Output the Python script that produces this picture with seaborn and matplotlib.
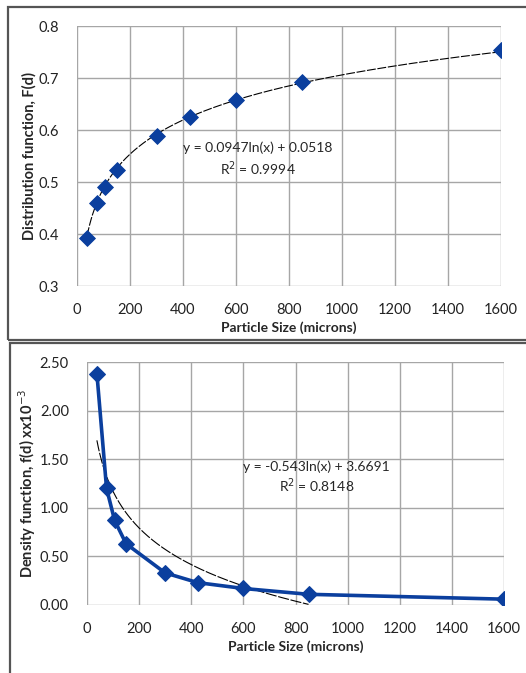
import numpy as np
import pandas as pd
import matplotlib
matplotlib.use("Agg")
import matplotlib.pyplot as plt
import seaborn as sns
from matplotlib.patches import Rectangle

# data
sizes = [38, 75, 106, 150, 300, 425, 600, 850, 1600]
dist_F = [0.392, 0.460, 0.490, 0.523, 0.589, 0.625, 0.658, 0.693, 0.754]
dens_f = [2.38, 1.20, 0.87, 0.63, 0.33, 0.23, 0.17, 0.11, 0.06]

# trendline coefficients as printed on the chart
top_a, top_b = 0.0947, 0.0518
bot_a, bot_b = -0.543, 3.6691
top_fit_range = (38, 1600)
bot_fit_range = (38, 850)

sns.set_theme(style="white")
plt.rcParams['font.family'] = ['Lato', 'DejaVu Sans']

blue = "#0b3f9e"
grid_c = "#a6a6a6"

fig = plt.figure(figsize=(5.26, 6.73), dpi=100)

# panel borders
fig.patches.append(Rectangle((8 / 526, 1 - 340 / 673), 1.0, 333 / 673,
                             transform=fig.transFigure, fill=False,
                             edgecolor="#555555", linewidth=1.6))
fig.patches.append(Rectangle((10 / 526, -0.01), 1.0, 1 - 343 / 673 + 0.01,
                             transform=fig.transFigure, fill=False,
                             edgecolor="#555555", linewidth=1.6))

ax1 = fig.add_axes([77 / 526, 1 - 286 / 673, 424 / 526, 260 / 673])
ax2 = fig.add_axes([87 / 526, 1 - 605 / 673, 417 / 526, 243 / 673])

df = pd.DataFrame({"size": sizes, "F": dist_F, "f": dens_f})


def style_axes(ax, yticks, yfmt):
    ax.set_xlim(0, 1600)
    ax.set_xticks(range(0, 1601, 200))
    ax.set_yticks(yticks)
    ax.set_ylim(yticks[0], yticks[-1])
    ax.set_yticklabels([yfmt.format(v) for v in yticks])
    ax.grid(True, color=grid_c, linewidth=1.0)
    for s in ax.spines.values():
        s.set_visible(False)
    ax.tick_params(axis="x", labelsize=10.5, length=0, pad=12, colors="#222222")
    ax.tick_params(axis="y", labelsize=10.5, length=0, pad=13, colors="#222222")
    ax.set_xlabel("Particle Size (microns)", fontsize=10, fontweight="bold", labelpad=3)


# top: distribution function
xt = np.linspace(*top_fit_range, 300)
ax1.plot(xt, top_a * np.log(xt) + top_b, color="black", linewidth=0.8,
         linestyle=(0, (8, 1.5)), zorder=2)
sns.scatterplot(data=df, x="size", y="F", ax=ax1, marker="D", s=65,
                color=blue, edgecolor=blue, zorder=3)
style_axes(ax1, [0.3, 0.4, 0.5, 0.6, 0.7, 0.8], "{:.1f}")
ax1.set_ylabel("Distribution function, F(d)", fontsize=10.5, fontweight="bold", labelpad=1)
ax1.text(683, 0.565, "y = 0.0947ln(x) + 0.0518", ha="center", va="center", fontsize=10)
ax1.text(683, 0.525, "R$^2$ = 0.9994", ha="center", va="center", fontsize=10)

# bottom: density function
xb = np.linspace(*bot_fit_range, 300)
ax2.plot(xb, bot_a * np.log(xb) + bot_b, color="black", linewidth=0.8,
         linestyle=(0, (10, 1.5)), zorder=2)
sns.lineplot(data=df, x="size", y="f", ax=ax2, marker="D", markersize=8.5,
             color=blue, linewidth=2.6, markeredgecolor=blue, zorder=3)
style_axes(ax2, [0.0, 0.5, 1.0, 1.5, 2.0, 2.5], "{:.2f}")
ax2.set_ylabel("Density function, f(d) xx10$^{-3}$", fontsize=10.5, fontweight="bold", labelpad=1)
ax2.text(882, 1.42, "y = -0.543ln(x) + 3.6691", ha="center", va="center", fontsize=10)
ax2.text(882, 1.23, "R$^2$ = 0.8148", ha="center", va="center", fontsize=10)

fig.savefig("out.png", dpi=100)
